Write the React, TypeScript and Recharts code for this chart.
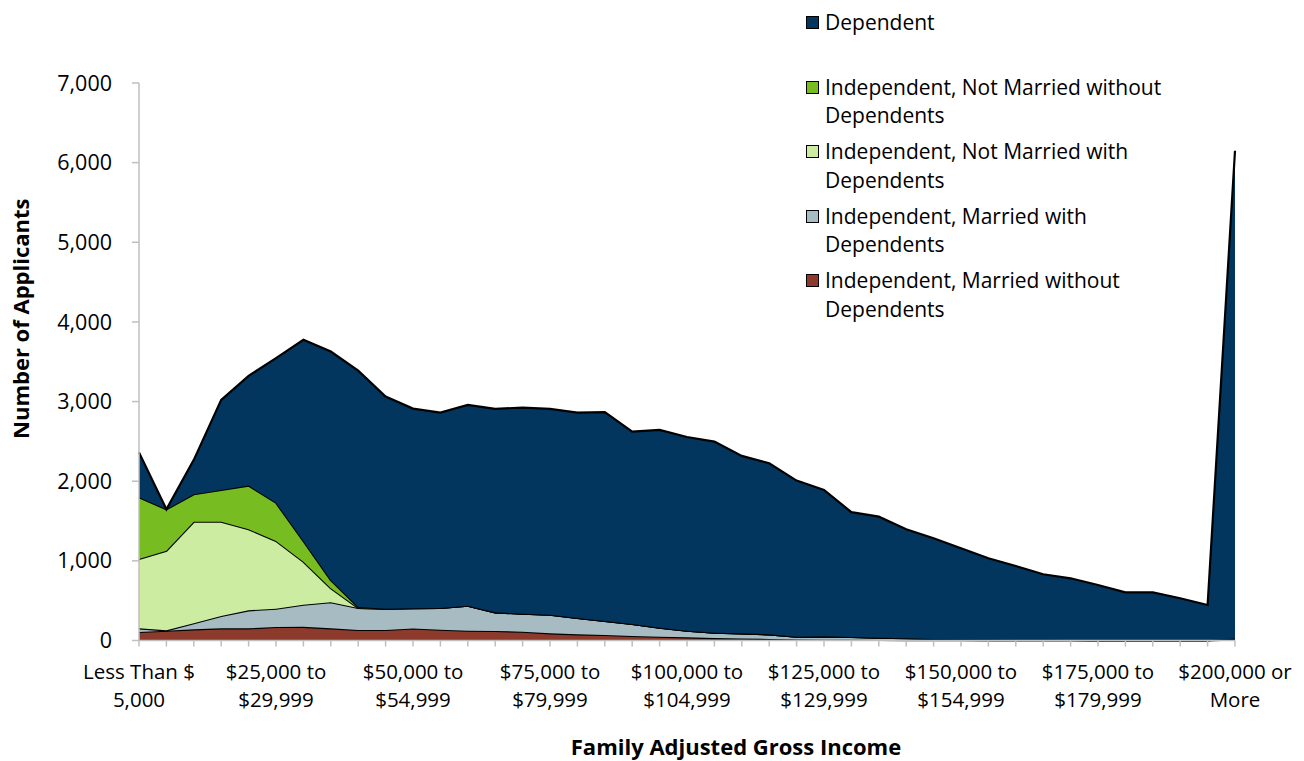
import React from 'react';
import { AreaChart, Area, XAxis, YAxis, Legend, Label } from 'recharts';

const categories = [
  'Less Than $ 5,000', '$5,000 to $9,999', '$10,000 to $14,999', '$15,000 to $19,999', '$20,000 to $24,999',
  '$25,000 to $29,999', '$30,000 to $34,999', '$35,000 to $39,999', '$40,000 to $44,999', '$45,000 to $49,999',
  '$50,000 to $54,999', '$55,000 to $59,999', '$60,000 to $64,999', '$65,000 to $69,999', '$70,000 to $74,999',
  '$75,000 to $79,999', '$80,000 to $84,999', '$85,000 to $89,999', '$90,000 to $94,999', '$95,000 to $99,999',
  '$100,000 to $104,999', '$105,000 to $109,999', '$110,000 to $114,999', '$115,000 to $119,999', '$120,000 to $124,999',
  '$125,000 to $129,999', '$130,000 to $134,999', '$135,000 to $139,999', '$140,000 to $144,999', '$145,000 to $149,999',
  '$150,000 to $154,999', '$155,000 to $159,999', '$160,000 to $164,999', '$165,000 to $169,999', '$170,000 to $174,999',
  '$175,000 to $179,999', '$180,000 to $184,999', '$185,000 to $189,999', '$190,000 to $194,999', '$195,000 to $199,999',
  '$200,000 or More',
];

const marriedWithout = [107, 123, 140, 153, 153, 170, 172, 153, 132, 132, 152, 136, 123, 119, 111, 90, 78, 69, 57, 48, 40, 30, 25, 20, 12, 10, 8, 6, 5, 4, 3, 2, 2, 2, 1, 1, 1, 1, 1, 1, 15];
const marriedWith = [46, 5, 76, 155, 226, 230, 278, 327, 276, 268, 253, 272, 314, 235, 226, 234, 205, 176, 150, 113, 83, 68, 65, 58, 36, 43, 36, 29, 23, 16, 12, 10, 8, 6, 5, 4, 3, 3, 2, 2, 10];
const notMarriedWith = [871, 1000, 1276, 1184, 1018, 850, 540, 176, 0, 0, 0, 0, 0, 0, 0, 0, 0, 0, 0, 0, 0, 0, 0, 0, 0, 0, 0, 0, 0, 0, 0, 0, 0, 0, 0, 0, 0, 0, 0, 0, 0];
const notMarriedWithout = [775, 520, 345, 399, 548, 481, 260, 104, 12, 0, 0, 0, 0, 0, 0, 0, 0, 0, 0, 0, 0, 0, 0, 0, 0, 0, 0, 0, 0, 0, 0, 0, 0, 0, 0, 0, 0, 0, 0, 0, 0];
const dependent = [563, 0, 431, 1130, 1378, 1814, 2525, 2868, 2969, 2663, 2507, 2454, 2521, 2554, 2588, 2584, 2579, 2622, 2416, 2483, 2432, 2399, 2228, 2148, 1960, 1838, 1567, 1520, 1369, 1264, 1143, 1021, 926, 824, 775, 692, 601, 601, 527, 443, 6125];

const yTicks = [0, 1000, 2000, 3000, 4000, 5000, 6000, 7000];

const data = categories.map((c, i) => ({
  category: c,
  mwo: marriedWithout[i],
  mw: marriedWith[i],
  nmw: notMarriedWith[i],
  nmwo: notMarriedWithout[i],
  dep: dependent[i],
}));

const FONT = '"Open Sans", sans-serif';
const AXIS_GRAY = '#BFBFBF';

// stacking order, bottom to top
const series = [
  { key: 'mwo', name: 'Independent, Married without Dependents', fill: '#8B3A2B' },
  { key: 'mw', name: 'Independent, Married with Dependents', fill: '#A7BCC2' },
  { key: 'nmw', name: 'Independent, Not Married with Dependents', fill: '#CCECA1' },
  { key: 'nmwo', name: 'Independent, Not Married without Dependents', fill: '#77BC21' },
  { key: 'dep', name: 'Dependent', fill: '#02365F' },
];

function XTick(props: any) {
  const { x, y, payload, index } = props;
  if (index % 5 !== 0) return <g />;
  const s = String(payload.value);
  const k = s.lastIndexOf(' ');
  return (
    <text x={x} y={y} textAnchor="middle" fontSize={20.5} fill="#000" fontFamily={FONT}>
      <tspan x={x} dy={30}>{s.slice(0, k)}</tspan>
      <tspan x={x} dy={28.5}>{s.slice(k + 1)}</tspan>
    </text>
  );
}

function LegendContent() {
  const items = [...series].reverse();
  return (
    <div style={{ fontFamily: FONT, fontSize: 21, color: '#000' }}>
      {items.map((it) => {
        const name = it.name;
        const k = name.lastIndexOf(' ');
        const lines = k > 0 ? [name.slice(0, k), name.slice(k + 1)] : [name, ''];
        return (
          <div key={name} style={{ display: 'flex', height: 64.5 }}>
            <div style={{ width: 13, height: 13, background: it.fill, border: '1.5px solid #000', boxSizing: 'border-box', marginTop: 8, marginRight: 6, flex: 'none' }} />
            <div style={{ lineHeight: '28.5px', whiteSpace: 'nowrap' }}>
              <div>{lines[0]}</div>
              <div>{lines[1] || '\u00a0'}</div>
            </div>
          </div>
        );
      })}
    </div>
  );
}

export default function App() {
  return (
    <div style={{ position: 'absolute', left: 0, top: 0, width: 1304, height: 761, background: '#fff', fontFamily: FONT }}>
      <AreaChart width={1304} height={761} data={data} margin={{ top: 83, right: 69, left: 0, bottom: 30.5 }}>
        <XAxis
          dataKey="category"
          interval={0}
          tick={<XTick />}
          tickSize={6}
          tickLine={{ stroke: AXIS_GRAY, strokeWidth: 1.5 }}
          axisLine={{ stroke: AXIS_GRAY, strokeWidth: 1.5 }}
          height={90}
        >
          <Label
            content={(p: any) => (
              <text x={p.viewBox.x + 597} y={p.viewBox.y + 114} textAnchor="middle" fontSize={22} fontWeight="bold" fill="#000" fontFamily={FONT}>
                Family Adjusted Gross Income
              </text>
            )}
          />
        </XAxis>
        <YAxis
          width={139}
          domain={[0, 7000]}
          ticks={yTicks}
          tickFormatter={(v: number) => v.toLocaleString('en-US')}
          tick={{ fontSize: 21.5, fill: '#000', fontFamily: FONT }}
          tickSize={7}
          tickMargin={20}
          tickLine={{ stroke: AXIS_GRAY, strokeWidth: 1.5 }}
          axisLine={{ stroke: AXIS_GRAY, strokeWidth: 1.5 }}
        >
          <Label
            content={(p: any) => {
              const cx = p.viewBox.x + 20;
              const cy = p.viewBox.y + p.viewBox.height / 2 - 43;
              return (
                <text x={cx} y={cy} transform={`rotate(-90 ${cx} ${cy})`} textAnchor="middle" dominantBaseline="central" fontSize={22} fontWeight="bold" fill="#000" fontFamily={FONT}>
                  Number of Applicants
                </text>
              );
            }}
          />
        </YAxis>
        <Legend
          layout="vertical"
          align="center"
          verticalAlign="middle"
          content={<LegendContent />}
          wrapperStyle={{ position: 'absolute', left: 806, top: 8, width: 480, height: 330 }}
        />
        {series.map((s) => (
          <Area
            key={s.key}
            type="linear"
            dataKey={s.key}
            name={s.name}
            stackId="1"
            fill={s.fill}
            fillOpacity={1}
            stroke="#000"
            strokeWidth={2.2}
            isAnimationActive={false}
          />
        ))}
      </AreaChart>
    </div>
  );
}
